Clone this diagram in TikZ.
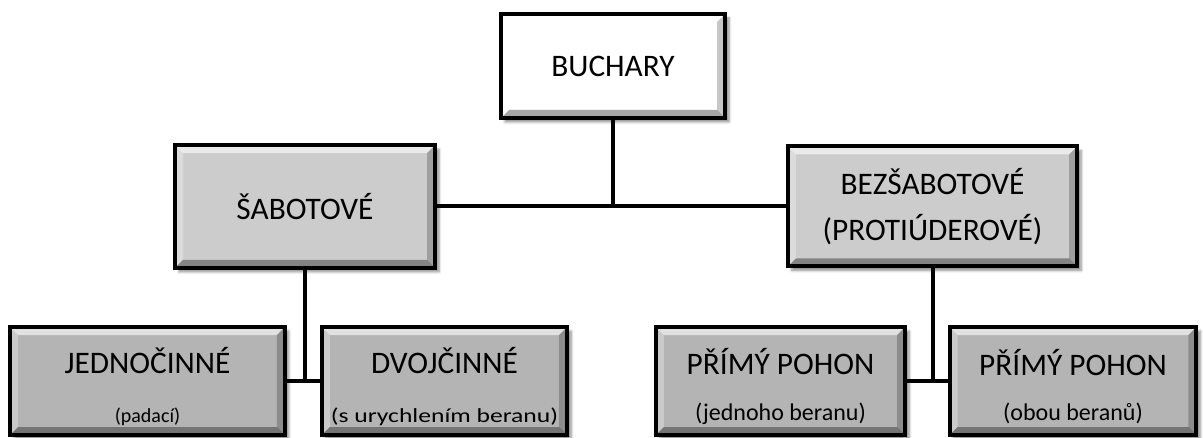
\documentclass[tikz,border=0pt]{standalone}
\usepackage{fontspec}
\setmainfont{Carlito}
\usepackage{tikz}
\usetikzlibrary{positioning,shadows.blur}
\definecolor{boxmid}{RGB}{204,204,204}
\definecolor{boxleaf}{RGB}{180,180,180}
\newcommand{\bevelw}{6pt}
\newcommand{\subfont}{\fontsize{15}{18}\selectfont}
\newcommand{\subfontb}{\fontsize{18}{21}\selectfont}
\newcommand{\topstrut}{\rule{0pt}{28pt}}
\tikzset{
  bevel/.style    = {path picture={
      \coordinate (nw) at (path picture bounding box.north west);
      \coordinate (ne) at (path picture bounding box.north east);
      \coordinate (sw) at (path picture bounding box.south west);
      \coordinate (se) at (path picture bounding box.south east);
      \fill[white, opacity=.6] (nw) -- (ne) -- ([shift={(-\bevelw,-\bevelw)}]ne) -- ([shift={(\bevelw,-\bevelw)}]nw) -- cycle;
      \fill[white, opacity=.3] (nw) -- ([shift={(\bevelw,-\bevelw)}]nw) -- ([shift={(\bevelw,\bevelw)}]sw) -- (sw) -- cycle;
      \fill[black, opacity=.22] (ne) -- (se) -- ([shift={(-\bevelw,\bevelw)}]se) -- ([shift={(-\bevelw,-\bevelw)}]ne) -- cycle;
      \fill[black, opacity=.35] (sw) -- (se) -- ([shift={(-\bevelw,\bevelw)}]se) -- ([shift={(\bevelw,\bevelw)}]sw) -- cycle;
    }},
  box/.style      = {draw=black, line width=3pt, bevel, align=center, inner sep=2pt,
                     font=\fontsize{23.5}{28}\selectfont,
                     blur shadow={shadow xshift=3pt, shadow yshift=-3pt, shadow blur steps=6, shadow opacity=45}},
  topbox/.style   = {box, fill=white},
  midbox/.style   = {box, fill=boxmid},
  leafbox/.style  = {box, fill=boxleaf, minimum height=81pt},
  link/.style     = {line width=3pt, draw=black},
}
\begin{document}
\begin{tikzpicture}[x=0.75pt, y=-0.75pt]
\useasboundingbox (0,0) rectangle (1203,438);

% ---- root ----
\node[topbox, minimum width=168pt, minimum height=78pt] (buchary) at (613,66) {BUCHARY};

% ---- second level ----
\node[midbox, minimum width=195pt, minimum height=92pt] (sabot) at (305,206.5) {ŠABOTOVÉ};
\node[midbox, minimum width=217pt, minimum height=90pt] (bezsab) at (932.5,206.5)
  {BEZŠABOTOVÉ\\[7pt](PROTIÚDEROVÉ)};

% ---- leaves ----
\node[leafbox, minimum width=206pt] (jedno) at (147.5,381)
  {\topstrut JEDNOČINNÉ\\[9pt]{\subfont (padací)}};
\node[leafbox, minimum width=184pt] (dvoj) at (444.5,381)
  {\topstrut DVOJČINNÉ\\[9pt]{\subfont\scalebox{1.28}[1]{(s urychlením beranu)}}};
\node[leafbox, minimum width=187pt] (primy1) at (780.5,381)
  {\topstrut PŘÍMÝ POHON\\[6pt]{\subfontb (jednoho beranu)}};
\node[leafbox, minimum width=185pt] (primy2) at (1073,381)
  {\topstrut PŘÍMÝ POHON\\[6pt]{\subfontb (obou beranů)}};

% ---- connectors ----
\draw[link] (buchary.south) -- (buchary.south |- sabot.east);
\draw[link] (sabot.east) -- (bezsab.west);
\draw[link] (sabot.south) -- (sabot.south |- jedno.east);
\draw[link] (jedno.east) -- (dvoj.west);
\draw[link] (bezsab.south) -- (bezsab.south |- primy1.east);
\draw[link] (primy1.east) -- (primy2.west);

\end{tikzpicture}
\end{document}
